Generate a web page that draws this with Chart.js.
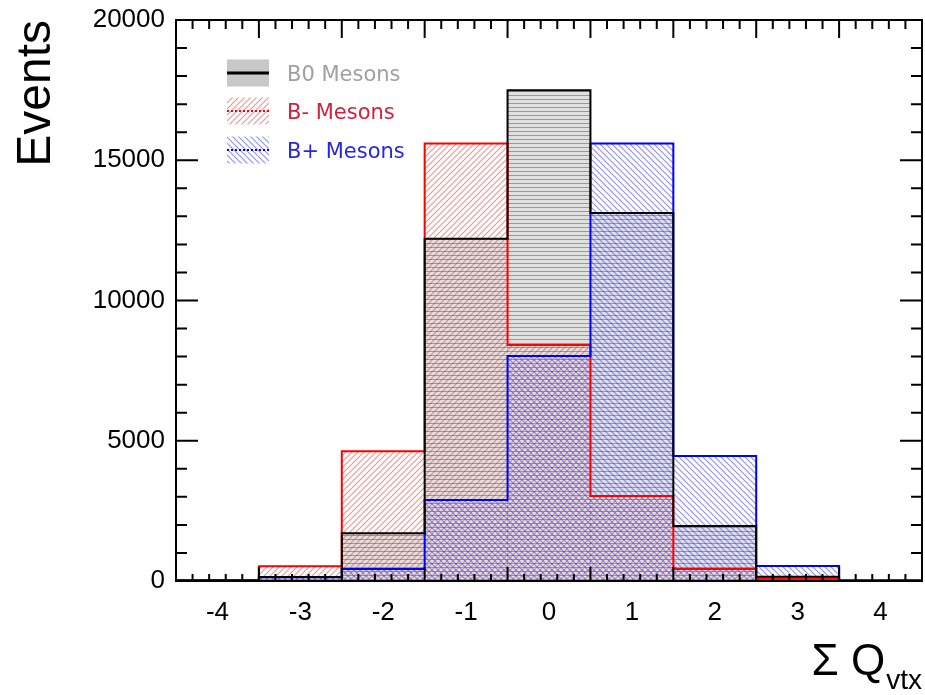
<!DOCTYPE html>
<html>
<head>
<meta charset="utf-8">
<script src="https://cdn.jsdelivr.net/npm/chart.js@4.4.1/dist/chart.umd.min.js"></script>
<style>
  html, body { margin: 0; padding: 0; background: #fff; }
  #wrap { width: 925px; height: 695px; position: relative; }
</style>
</head>
<body>
<div id="wrap"><canvas id="histo"></canvas></div>
<script>
// bins of sum Q_vtx and events per bin
const bins = [-4, -3, -2, -1, 0, 1, 2, 3, 4];
const b0Events = [15, 140, 1700, 12200, 17500, 13120, 1960, 150, 15];
const bMinusEvents = [40, 530, 4630, 15600, 8410, 3030, 430, 80, 5];
const bPlusEvents = [5, 130, 430, 2890, 8020, 15600, 4460, 535, 15];
const yTicks = [0, 5000, 10000, 15000, 20000];
const seriesNames = ["B0 Mesons", "B- Mesons", "B+ Mesons"];

const TICK_FONT = "'Liberation Sans', Arial, sans-serif";

// HATCH PATTERNS (like root fill styles)
function makePattern(kind) {
  const c = document.createElement("canvas");
  const ctx = c.getContext("2d");
  if (kind === "horiz") {
    c.width = 4; c.height = 4;
    ctx.fillStyle = "rgba(0,0,0,0.12)";
    ctx.fillRect(0, 0, 4, 4);
    ctx.fillStyle = "rgba(0,0,0,0.32)";
    ctx.fillRect(0, 3, 4, 1);
  } else {
    const s = 6;
    c.width = s; c.height = s;
    ctx.strokeStyle = kind === "red" ? "rgba(232,60,60,0.55)" : "rgba(60,60,225,0.55)";
    ctx.lineWidth = 1.2;
    ctx.beginPath();
    if (kind === "red") {
      ctx.moveTo(0, s); ctx.lineTo(s, 0);
      ctx.moveTo(-s / 2, s / 2); ctx.lineTo(s / 2, -s / 2);
      ctx.moveTo(s / 2, s * 1.5); ctx.lineTo(s * 1.5, s / 2);
    } else {
      ctx.moveTo(0, 0); ctx.lineTo(s, s);
      ctx.moveTo(-s / 2, s / 2); ctx.lineTo(s / 2, s * 1.5);
      ctx.moveTo(s / 2, -s / 2); ctx.lineTo(s * 1.5, s / 2);
    }
    ctx.stroke();
  }
  return ctx.createPattern(c, "repeat");
}

const patB0 = makePattern("horiz");
const patMinus = makePattern("red");
const patPlus = makePattern("blue");

// outline of a histogram: points on the bin edges
function stepPoints(vals) {
  const pts = bins.map((b, i) => ({ x: b - 0.5, y: vals[i] }));
  pts.push({ x: bins[bins.length - 1] + 0.5, y: vals[vals.length - 1] });
  return pts;
}

// frame with root style ticks on all 4 sides
const frameTicks = {
  id: "frameTicks",
  afterDatasetsDraw(chart) {
    const { ctx, chartArea: a, scales } = chart;
    const xl = scales.xl, y = scales.y;
    ctx.save();
    ctx.strokeStyle = "#000";
    ctx.lineWidth = 2;
    ctx.strokeRect(a.left, a.top, a.right - a.left, a.bottom - a.top);
    ctx.beginPath();
    for (let k = 0; k <= 45; k++) {
      const px = xl.getPixelForValue(xl.min + k * 0.2);
      const major = k % 5 === 0;
      ctx.moveTo(px, a.bottom); ctx.lineTo(px, a.bottom - (major ? 14 : 7));
      ctx.moveTo(px, a.top); ctx.lineTo(px, a.top + (major ? 18 : 9));
    }
    for (let v = 0; v <= y.max; v += 1000) {
      const py = y.getPixelForValue(v);
      const major = v % 5000 === 0;
      ctx.moveTo(a.left, py); ctx.lineTo(a.left + (major ? 22 : 11), py);
      ctx.moveTo(a.right, py); ctx.lineTo(a.right - (major ? 22 : 11), py);
    }
    ctx.stroke();
    ctx.restore();
  }
};

// legend inside the frame
const legendBox = {
  id: "legendBox",
  afterDraw(chart) {
    const { ctx, chartArea: a } = chart;
    const x0 = a.left + 51;
    const rows = [a.top + 53, a.top + 91, a.top + 130];
    const swW = 42, swH = 27;
    const textColors = ["#a0a0a0", "#d61f3d", "#2626e4"];
    const lineColors = ["#000", "#ff0000", "#0000ff"];
    const bars = chart.data.datasets.filter(d => d.type === "bar");
    ctx.save();
    bars.forEach((ds, i) => {
      const cy = rows[i];
      ctx.fillStyle = i === 0 ? "#c8c8c8" : ds.backgroundColor;
      ctx.fillRect(x0, cy - swH / 2, swW, swH);
      ctx.beginPath();
      ctx.strokeStyle = lineColors[i];
      ctx.lineWidth = i === 0 ? 3 : 2;
      ctx.setLineDash(i === 0 ? [] : [2, 2]);
      ctx.moveTo(x0, cy); ctx.lineTo(x0 + swW, cy);
      ctx.stroke();
      ctx.setLineDash([]);
      ctx.fillStyle = textColors[i];
      ctx.font = "21px 'DejaVu Sans', sans-serif";
      ctx.textBaseline = "middle";
      ctx.fillText(ds.label, x0 + 60, cy + 3);
    });
    ctx.restore();
  }
};

// x title with subscript
const xTitle = {
  id: "xTitle",
  afterDraw(chart) {
    const { ctx, chartArea: a } = chart;
    ctx.save();
    ctx.fillStyle = "#000";
    ctx.textAlign = "right";
    ctx.textBaseline = "alphabetic";
    ctx.font = "28px " + TICK_FONT;
    ctx.fillText("vtx", a.right, a.bottom + 108);
    const w = ctx.measureText("vtx").width;
    ctx.font = "44px " + TICK_FONT;
    ctx.fillText("\u03A3 Q", a.right - w - 1, a.bottom + 94);
    ctx.restore();
  }
};

const chart = new Chart(document.getElementById("histo"), {
  data: {
    labels: bins.map(String),
    datasets: [
      { type: "bar", label: seriesNames[0], data: b0Events, backgroundColor: patB0, borderWidth: 0, order: 10 },
      { type: "bar", label: seriesNames[1], data: bMinusEvents, backgroundColor: patMinus, borderWidth: 0, order: 9 },
      { type: "bar", label: seriesNames[2], data: bPlusEvents, backgroundColor: patPlus, borderWidth: 0, order: 8 },
      { type: "line", label: "", data: stepPoints(bMinusEvents), xAxisID: "xl", borderColor: "#ff0000", borderWidth: 2, stepped: true, pointRadius: 0, fill: false, order: 3 },
      { type: "line", label: "", data: stepPoints(bPlusEvents), xAxisID: "xl", borderColor: "#0000ff", borderWidth: 2, stepped: true, pointRadius: 0, fill: false, order: 2 },
      { type: "line", label: "", data: stepPoints(b0Events), xAxisID: "xl", borderColor: "#000000", borderWidth: 2, stepped: true, pointRadius: 0, fill: false, order: 1 }
    ]
  },
  options: {
    responsive: true,
    maintainAspectRatio: false,
    animation: false,
    layout: { padding: { top: 20, right: 3, left: 0, bottom: 0 } },
    datasets: { bar: { grouped: false, barPercentage: 1, categoryPercentage: 1 } },
    plugins: { legend: { display: false }, tooltip: { enabled: false } },
    scales: {
      x: {
        type: "category",
        offset: true,
        grid: { display: false },
        border: { display: false },
        ticks: { color: "#000", font: { family: TICK_FONT, size: 26 }, padding: 8, maxRotation: 0 },
        afterFit: s => { s.height = 114; }
      },
      xl: { type: "linear", display: false, min: -4.5, max: 4.5 },
      y: {
        min: 0,
        max: 20000,
        afterBuildTicks: s => { s.ticks = yTicks.map(v => ({ value: v })); },
        grid: { display: false },
        border: { display: false },
        ticks: { color: "#000", font: { family: TICK_FONT, size: 26 }, padding: 3, callback: v => String(v) },
        title: { display: true, text: "Events", align: "end", color: "#000", font: { family: TICK_FONT, size: 48 }, padding: { top: 8, bottom: 0 } },
        afterFit: s => { s.width = 176; }
      }
    }
  },
  plugins: [frameTicks, legendBox, xTitle]
});
</script>
</body>
</html>
